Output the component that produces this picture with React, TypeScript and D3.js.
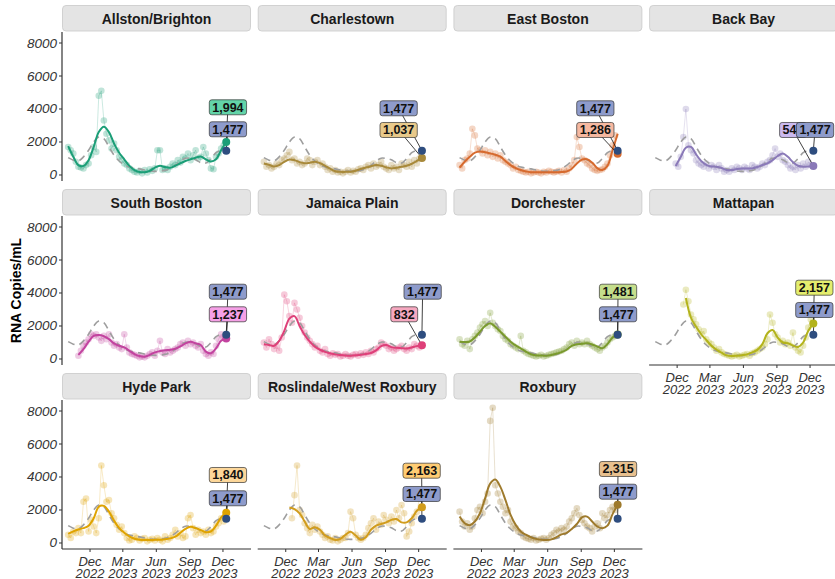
import React, { useEffect, useRef } from "react";
import * as d3 from "d3";

// ---- data ----
const neighborhoods = [
  "Allston/Brighton", "Charlestown", "East Boston", "Back Bay",
  "South Boston", "Jamaica Plain", "Dorchester", "Mattapan",
  "Hyde Park", "Roslindale/West Roxbury", "Roxbury",
];
const lineColors = [
  "#1B9E77", "#A8893A", "#D66A2E", "#8A79B8",
  "#C2439F", "#DE4079", "#7A9A2D", "#B3B31C",
  "#DFA300", "#D19C1C", "#9E7A2C",
];
const labelFills = [
  "#63D4A8", "#E8C98A", "#F6B8A0", "#CBB9EF",
  "#F5A0E6", "#F6A8C0", "#C5DE8C", "#E4EE6E",
  "#FDD79A", "#FFCC73", "#E8C08E",
];
const latestValues = [1994, 1037, 1286, 546, 1237, 832, 1481, 2157, 1840, 2163, 2315];
const citywideLatest = 1477;
const citywideColor = "#2E4D7F";
const citywideFill = "#8E9BCB";

const firstSample = new Date(2022, 9, 2); // weekly samples from here, fits every 2 weeks
const latestDate = new Date(2023, 11, 10);

const yTicks = [0, 2000, 4000, 6000, 8000];
const xTickDates = [
  new Date(2022, 11, 1), new Date(2023, 2, 1), new Date(2023, 5, 1),
  new Date(2023, 8, 1), new Date(2023, 11, 1),
];
const xTickLabels = [["Dec", "2022"], ["Mar", "2023"], ["Jun", "2023"], ["Sep", "2023"], ["Dec", "2023"]];

const citywideFit = [1050, 900, 850, 1100, 1500, 2000, 2300, 2200, 1700, 1200,
  850, 620, 480, 420, 370, 300, 240, 220, 230, 280,
  400, 580, 850, 1020, 1000, 920, 750, 720, 1000, 1350, 1500];

const _ = null;
const allstonPts = [1700, 1500, 1300, 800, 500, 450, 400, 600, 700, 1200,
  1700, 1400, 4800, 5100, 3300, 2500, 2100, 1600, 1900, 1500,
  1100, 900, 700, 600, 400, 300, 200, 150, 250, 100,
  300, 150, 350, 250, 400, 1500, 1500, 300, 400, 300,
  500, 700, 600, 900, 750, 1100, 1000, 1300, 900, 1200,
  1500, 1000, 1100, 1700, 1300, 900, 400, 350, 1100, 1300, 1600, 1800];
const allstonFit = [1750, 1100, 600, 550, 900, 1700, 2600, 2930, 2600, 1900,
  1350, 950, 550, 300, 180, 170, 250, 450, 560, 480,
  440, 560, 710, 850, 950, 1050, 1120, 950, 820, 950, 1500, 2000];

const charlestownPts = [800, 500, 600, 400, 500, 700, 600, 900, 1000, 1200,
  1400, 900, 1000, 700, 800, 600, 700, 1000, 900, 600,
  800, 900, 600, 700, 500, 300, 400, 200, 300, 150,
  200, 100, 200, 300, 150, 250, 200, 350, 400, 300,
  500, 600, 400, 700, 500, 600, 800, 500, 400, 300,
  600, 400, 500, 300, 700, 600, 500, 800, 500, 900, 700, 1000];
const charlestownFit = [700, 620, 520, 600, 800, 940, 900, 780, 710, 740,
  800, 720, 560, 380, 230, 190, 190, 200, 260, 360,
  450, 530, 600, 560, 470, 400, 440, 500, 560, 680, 850, 1037];

const eastBostonPts = [600, 400, 900, 1000, 1300, 2800, 2400, 1600, 1500, 1300,
  1500, 1200, 1400, 1100, 1300, 1000, 1200, 900, 800, 700,
  600, 400, 500, 300, 250, 200, 150, 200, 100, 150,
  200, 150, 100, 200, 150, 250, 200, 150, 200, 250,
  150, 300, 200, 400, 600, 900, 2300, 1700, 1000, 900,
  700, 600, 400, 300, 250, 300, 350, 500, 700, 1200, 1800, 2400];
const eastBostonFit = [450, 800, 1100, 1350, 1420, 1380, 1310, 1230, 1110, 850,
  600, 420, 300, 220, 170, 160, 160, 160, 160, 170,
  180, 210, 380, 700, 930, 950, 750, 420, 300, 550, 1500, 2500];

const backBayPts = [_, _, _, _, _, _, _, _, 700, 500,
  1100, 2300, 4000, 1800, 1500, 1300, 900, 700, 600, 500,
  700, 400, 600, 500, 300, 600, 400, 200, 300, 200,
  400, 300, 500, 400, 300, 500, 400, 300, 600, 500,
  400, 500, 700, 600, 800, 900, 1200, 1600, 1100, 1300,
  900, 800, 600, 400, 500, 300, 600, 400, 700, 500, 800, 600];
const backBayFit = [_, _, _, _, 550, 1100, 1650, 1700, 1250, 850,
  620, 520, 500, 420, 300, 300, 360, 400, 390, 400,
  480, 600, 710, 900, 1150, 1300, 1100, 780, 560, 500, 520, 560];

const southBostonPts = [_, _, _, _, 200, 500, 800, 1000, 1200, 1500,
  1400, 1500, 1300, 1100, 1400, 1200, 1500, 1000, 800, 900,
  700, 600, 1500, 700, 400, 300, 250, 200, 100, 150,
  100, 200, 300, 400, 200, 500, 1100, 400, 300, 600,
  400, 500, 600, 700, 900, 1000, 800, 1100, 900, 1000,
  800, 700, 900, 500, 300, 200, 400, 300, 800, 1200, 1500, 1300];
const southBostonFit = [_, _, 250, 600, 1050, 1400, 1450, 1380, 1200, 950,
  800, 700, 500, 300, 180, 140, 250, 400, 480, 530,
  560, 620, 760, 950, 1050, 950, 850, 450, 350, 650, 1100, 1237];

const jamaicaPlainPts = [1000, 700, 1200, 900, 600, 800, 500, 1300, 3900, 3500,
  2600, 2200, 3400, 3000, 2500, 2000, 1600, 1300, 1100, 900,
  700, 800, 500, 400, 600, 300, 200, 350, 250, 300,
  150, 200, 300, 200, 150, 250, 300, 200, 350, 250,
  400, 300, 500, 400, 600, 700, 1000, 900, 800, 600,
  700, 500, 600, 700, 800, 600, 500, 700, 600, 900, 800, 700];
const jamaicaPlainFit = [900, 850, 800, 1100, 1700, 2450, 2600, 2000, 1450, 1050,
  750, 560, 430, 350, 280, 240, 210, 200, 220, 260,
  300, 360, 520, 780, 850, 720, 680, 650, 640, 700, 780, 832];

const dorchesterPts = [1200, 900, 800, 1100, 600, 1200, 1400, 1600, 1900, 2100,
  2300, 2000, 2800, 2200, 2000, 1800, 1700, 1400, 1200, 1100,
  900, 800, 700, 600, 1400, 500, 400, 300, 250, 200,
  150, 200, 250, 150, 200, 250, 300, 350, 400, 450,
  500, 600, 700, 900, 1000, 800, 1100, 900, 1000, 900,
  1100, 900, 800, 700, 600, 500, 700, 800, 1000, 1200, 1300, 1400];
const dorchesterFit = [1050, 1030, 1060, 1300, 1650, 2000, 2160, 1950, 1650, 1350,
  1050, 820, 650, 450, 290, 230, 210, 200, 240, 320,
  420, 560, 800, 900, 920, 950, 880, 760, 650, 900, 1300, 1481];

const mattapanPts = [_, _, _, _, _, _, _, _, _, _,
  _, 3300, 4200, 3500, 2700, 2400, 2100, 1800, 1500, 1700,
  1200, 1000, 900, 700, 500, 600, 400, 300, 250, 200,
  150, 200, 250, 150, 200, 250, 300, 200, 350, 400,
  500, 600, 700, 900, 1200, 2700, 2200, 1500, 1300, 1000,
  1100, 900, 1000, 800, 1600, 700, 500, 400, 800, 1300, 1900, 2400];
const mattapanFit = [_, _, _, _, _, _, 3700, 2500, 1950, 1500,
  1150, 800, 560, 380, 220, 180, 200, 230, 280, 400,
  550, 900, 1560, 1760, 1300, 1000, 960, 820, 730, 1000, 1700, 2157];

const hydeParkPts = [500, 300, 700, 600, 900, 600, 2500, 2700, 700, 1400,
  1000, 600, 1500, 4700, 3500, 2500, 2600, 1800, 1500, 1100,
  800, 1000, 600, 300, 150, 200, 400, 300, 150, 250,
  300, 100, 200, 250, 150, 300, 200, 100, 400, 200,
  300, 500, 800, 400, 600, 300, 400, 1500, 1700, 900,
  500, 800, 600, 700, 500, 800, 600, 700, 1000, 1200, 1500, 1300];
const hydeParkFit = [550, 700, 820, 900, 1050, 1500, 2200, 2250, 1900, 1350,
  900, 620, 400, 260, 200, 180, 180, 190, 200, 220,
  280, 380, 620, 850, 980, 900, 780, 650, 700, 1050, 1550, 1840];

const roslindalePts = [_, _, _, _, _, _, _, _, _, _,
  _, 1500, 2900, 4700, 2000, 1700, 1200, 900, 600, 1100,
  800, 1000, 700, 500, 300, 400, 200, 150, 300, 100,
  200, 300, 300, 600, 1900, 1500, 500, 300, 200, 300,
  500, 900, 1200, 1500, 800, 1300, 1100, 1700, 1400, 1200,
  1600, 1300, 2000, 1500, 2300, 1800, 400, 700, 1200, 1600, 1900, 2700];
const roslindaleFit = [_, _, _, _, _, 2150, 2050, 1800, 1300, 850,
  950, 800, 450, 300, 180, 250, 500, 680, 450, 200,
  350, 800, 1050, 1150, 1250, 1400, 1450, 1250, 1250, 1500, 1950, 2163];

const roxburyPts = [1900, 1300, 1000, 1200, 800, 1000, 1500, 2000, 2200, 1800,
  2500, 3000, 7400, 8200, 3500, 3000, 2500, 2200, 1800, 2000,
  1300, 1000, 900, 700, 600, 400, 300, 250, 200, 300,
  150, 200, 250, 300, 200, 300, 500, 600, 800, 700,
  900, 800, 1000, 1300, 1500, 1800, 2100, 1700, 1400, 1200,
  1000, 900, 700, 1000, 1200, 900, 1800, 1500, 1700, 2000, 2200, 2000];
const roxburyFit = [1600, 1200, 1080, 1300, 1800, 2700, 3600, 3850, 3400, 2600,
  1700, 1100, 700, 500, 350, 250, 200, 180, 220, 350,
  520, 620, 850, 1150, 1550, 1600, 1300, 1000, 900, 1050, 1750, 2315];

const pointSeries = [allstonPts, charlestownPts, eastBostonPts, backBayPts, southBostonPts,
  jamaicaPlainPts, dorchesterPts, mattapanPts, hydeParkPts, roslindalePts, roxburyPts];
const fitSeries = [allstonFit, charlestownFit, eastBostonFit, backBayFit, southBostonFit,
  jamaicaPlainFit, dorchesterFit, mattapanFit, hydeParkFit, roslindaleFit, roxburyFit];

// ---- layout ----
const W = 835, H = 579;
const panelLeft = 62, panelStep = 195.7, panelW = 189;
const rowTop = 32, rowStep = 184, plotH = 149, stripH = 27;
const font = "'Liberation Sans', Arial, sans-serif";

// repelled label placement (px from the latest point / zero line)
const labelNudge = [
  { nb: [1.7, -67.7], city: [1.7, -45.7] },
  { nb: [-23.3, -45], city: [-23.3, -66.7] },
  { nb: [-22.3, -45], city: [-22.3, -66.7] },
  { nb: [-20.3, -45], city: [1.7, -45] },
  { nb: [1.7, -44.7], city: [1.7, -67.3] },
  { nb: [-17.7, -44.7], city: [0.7, -67.3] },
  { nb: [0.4, -67.3], city: [0.4, -44.7] },
  { nb: [1, -71.3], city: [1, -49] },
  { nb: [1.7, -68], city: [1.7, -44.7] },
  { nb: [-0.3, -72.3], city: [-0.3, -49] },
  { nb: [0.4, -74], city: [0.4, -51.3] },
];

const fmt = d3.format(",");
const labelWidth = (s: string) =>
  s.split("").reduce((a, c) => a + (c === "," ? 0.278 : 0.556), 0) * 12.5 + 6;

const App = () => {
  const ref = useRef<SVGSVGElement>(null);

  useEffect(() => {
    const svg = d3.select(ref.current);
    svg.selectAll("*").remove();

    const pointDates = d3.range(62).map((i) => d3.timeDay.offset(firstSample, 7 * i));
    const fitDates = d3.range(32).map((j) => d3.timeDay.offset(firstSample, 14 * j));

    // y-axis title
    svg.append("text")
      .attr("transform", `translate(16,${(rowTop + 2 * rowStep + plotH + rowTop) / 2}) rotate(-90)`)
      .attr("text-anchor", "middle")
      .attr("dominant-baseline", "central")
      .attr("font-family", font)
      .attr("font-weight", "bold")
      .attr("font-size", 14)
      .text("RNA Copies/mL");

    neighborhoods.forEach((name, k) => {
      const col = k % 4;
      const row = Math.floor(k / 4);
      const x0 = panelLeft + col * panelStep;
      const top = rowTop + row * rowStep;
      const bottom = top + plotH;

      const x = d3.scaleTime()
        .domain([new Date(2022, 8, 15), new Date(2024, 1, 16)])
        .range([x0, x0 + panelW]);
      const y = d3.scaleLinear().domain([-364, 8667]).range([bottom, top]);

      const g = svg.append("g");

      // strip
      g.append("rect")
        .attr("x", x0 + 0.5).attr("y", top - stripH + 0.5)
        .attr("width", panelW - 1).attr("height", stripH - 1.5)
        .attr("rx", 3.5)
        .attr("fill", "#E4E4E4").attr("stroke", "#C9C9C9").attr("stroke-width", 0.8);
      g.append("text")
        .attr("x", x0 + panelW / 2).attr("y", top - stripH / 2)
        .attr("text-anchor", "middle").attr("dominant-baseline", "central")
        .attr("font-family", font).attr("font-weight", "bold").attr("font-size", 14)
        .attr("fill", "#1a1a1a")
        .text(name);

      // y axis on the first column
      if (col === 0) {
        g.append("line")
          .attr("x1", x0).attr("x2", x0).attr("y1", top).attr("y2", bottom)
          .attr("stroke", "#333").attr("stroke-width", 1.2);
        yTicks.forEach((t) => {
          g.append("line")
            .attr("x1", x0 - 3).attr("x2", x0).attr("y1", y(t)).attr("y2", y(t))
            .attr("stroke", "#333").attr("stroke-width", 1);
          g.append("text")
            .attr("x", x0 - 5).attr("y", y(t))
            .attr("text-anchor", "end").attr("dominant-baseline", "central")
            .attr("font-family", font).attr("font-style", "italic").attr("font-size", 13.5)
            .attr("fill", "#333")
            .text(t);
        });
      }

      // x axis on the bottom panels
      if (row === 2 || k === 7) {
        g.append("line")
          .attr("x1", x0).attr("x2", x0 + panelW).attr("y1", bottom).attr("y2", bottom)
          .attr("stroke", "#333").attr("stroke-width", 1.2);
        xTickDates.forEach((d, ti) => {
          g.append("line")
            .attr("x1", x(d)).attr("x2", x(d)).attr("y1", bottom).attr("y2", bottom + 3)
            .attr("stroke", "#333").attr("stroke-width", 1);
          const t = g.append("text")
            .attr("text-anchor", "middle")
            .attr("font-family", font).attr("font-style", "italic").attr("font-size", 13)
            .attr("fill", "#333");
          xTickLabels[ti].forEach((s, li) => {
            t.append("tspan").attr("x", x(d)).attr("y", bottom + 16.5 + li * 12).text(s);
          });
        });
      }

      const color = lineColors[k];
      const pts = pointSeries[k].map((v, i) => ({ d: pointDates[i], v }));
      const fit = fitSeries[k].map((v, j) => ({ d: fitDates[j], v }));
      const city = citywideFit.map((v, j) => ({ d: fitDates[j], v }));

      const rawLine = d3.line<{ d: Date; v: number | null }>()
        .defined((p) => p.v != null)
        .x((p) => x(p.d)).y((p) => y(p.v as number));
      const smoothLine = d3.line<{ d: Date; v: number | null }>()
        .defined((p) => p.v != null)
        .x((p) => x(p.d)).y((p) => y(p.v as number))
        .curve(d3.curveCatmullRom.alpha(0.5));

      // raw samples
      g.append("path").datum(pts)
        .attr("d", rawLine).attr("fill", "none")
        .attr("stroke", color).attr("stroke-opacity", 0.25).attr("stroke-width", 0.9);
      g.selectAll(".pt").data(pts.filter((p) => p.v != null)).enter()
        .append("circle")
        .attr("cx", (p) => x(p.d)).attr("cy", (p) => y(p.v as number))
        .attr("r", 3.3).attr("fill", color).attr("fill-opacity", 0.28);

      // citywide trend
      g.append("path").datum(city)
        .attr("d", smoothLine).attr("fill", "none")
        .attr("stroke", "#9E9E9E").attr("stroke-width", 1.6)
        .attr("stroke-dasharray", "7,5");

      // neighborhood trend
      g.append("path").datum(fit)
        .attr("d", smoothLine).attr("fill", "none")
        .attr("stroke", color).attr("stroke-width", 2);

      // latest points
      const lx = x(latestDate);
      const nbY = y(latestValues[k]);
      const cityY = y(citywideLatest);
      const zeroY = y(0);
      const nudge = labelNudge[k];
      const nbLab = { x: lx + nudge.nb[0], y: zeroY + nudge.nb[1] };
      const cityLab = { x: lx + nudge.city[0], y: zeroY + nudge.city[1] };

      g.append("line")
        .attr("x1", nbLab.x).attr("y1", nbLab.y).attr("x2", lx).attr("y2", nbY)
        .attr("stroke", "#111").attr("stroke-width", 0.8);
      g.append("line")
        .attr("x1", cityLab.x).attr("y1", cityLab.y).attr("x2", lx).attr("y2", cityY)
        .attr("stroke", "#111").attr("stroke-width", 0.8);

      g.append("circle").attr("cx", lx).attr("cy", nbY).attr("r", 4).attr("fill", color);
      g.append("circle").attr("cx", lx).attr("cy", cityY).attr("r", 4).attr("fill", citywideColor);

      const drawLabel = (p: { x: number; y: number }, value: number, fill: string) => {
        const s = fmt(value);
        const w = labelWidth(s);
        g.append("rect")
          .attr("x", p.x - w / 2).attr("y", p.y - 7.5)
          .attr("width", w).attr("height", 15).attr("rx", 2.5)
          .attr("fill", fill).attr("stroke", "#333").attr("stroke-width", 0.7);
        g.append("text")
          .attr("x", p.x).attr("y", p.y + 0.5)
          .attr("text-anchor", "middle").attr("dominant-baseline", "central")
          .attr("font-family", font).attr("font-weight", "bold").attr("font-size", 12.5)
          .attr("fill", "#111")
          .text(s);
      };
      drawLabel(nbLab, latestValues[k], labelFills[k]);
      drawLabel(cityLab, citywideLatest, citywideFill);
    });
  }, []);

  return (
    <svg
      ref={ref}
      width={W}
      height={H}
      style={{ position: "absolute", left: 0, top: 0, background: "#fff" }}
    />
  );
};

export default App;
